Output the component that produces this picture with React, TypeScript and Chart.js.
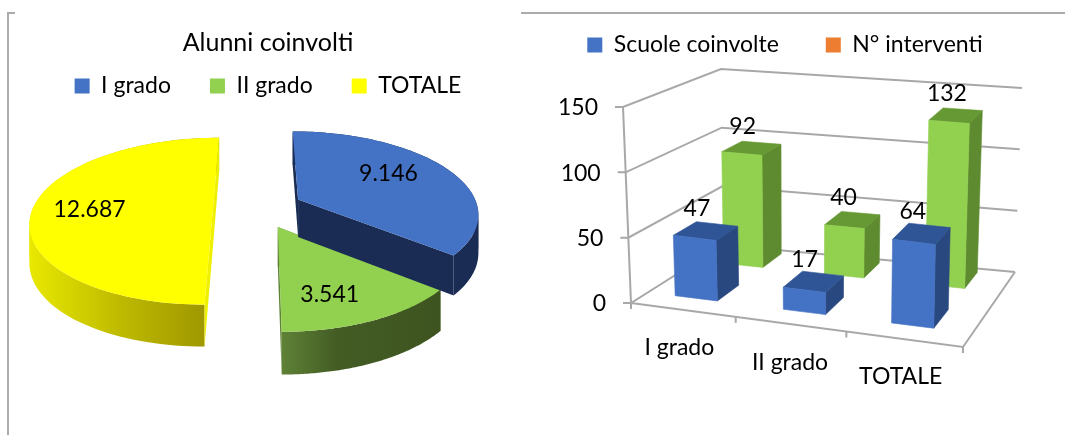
import React, { useEffect, useRef } from "react";
import { Chart, registerables } from "chart.js";

Chart.register(...registerables);

// ---- data ----
const pieCategories = ["I grado", "II grado", "TOTALE"];
const pieValues = [9146, 3541, 12687];
const pieValueLabels = ["9.146", "3.541", "12.687"];
const barCategories = ["I grado", "II grado", "TOTALE"];
const schoolsValues = [47, 17, 64];
const interventionsValues = [92, 40, 132];
const seriesNames = ["Scuole coinvolte", "N° interventi"];
const yTicksMax = 150;
const yTickStep = 50;

// ---- style ----
const FONT = "Lato, 'Open Sans', sans-serif";
const TXT = "#000000";
const pieColors = ["#4472C4", "#92D050", "#FFFF00"];
const barLegendColors = ["#4472C4", "#ED7D31"];
const GRID = "#A8A8A8";

// ---- pie projection ----
const PC = { x: 258, y: 208, r: 180, off: 45, p: 0.1625, s: 0.452, ref: 185 };
function pieProject(a: number, b: number) {
  const w = 1 / (1 - (PC.p * b) / PC.ref);
  return { x: PC.x + a * w, y: PC.y + b * PC.s * w };
}
const pieDepth = (b: number) => 38 + (4 * b) / PC.ref;
const sideStyles = [
  { stops: [[0, "#1A2C54"], [1, "#1A2C54"]], face: "#1A2C54", faceOver: false },
  { stops: [[0, "#5F8236"], [0.35, "#435C24"], [1, "#3E5420"]], face: "#5F8236", faceOver: false },
  { stops: [[0, "#E8E800"], [0.5, "#BDB800"], [1, "#9A9200"]], face: "#EFEF00", faceOver: true },
];
const labelAngleShift = [-11, 5, 2];
const LABEL_R = 0.69;

const pie3dPlugin = {
  id: "pie3d",
  beforeDatasetsDraw(chart: any) {
    const ctx = chart.ctx as CanvasRenderingContext2D;
    const arcs = chart.getDatasetMeta(0).data as any[];
    const drawOne = (i: number) => {
      const el = arcs[i];
      const mid = (el.startAngle + el.endAngle) / 2;
      const off = el.options.offset ?? 0;
      const ax = Math.cos(mid) * off;
      const ay = Math.sin(mid) * off;
      const n = 90;
      const plan: [number, number][] = [];
      for (let k = 0; k <= n; k++) {
        const t = el.startAngle + ((el.endAngle - el.startAngle) * k) / n;
        plan.push([ax + Math.cos(t) * PC.r, ay + Math.sin(t) * PC.r]);
      }
      const top = plan.map(([a, b]) => pieProject(a, b));
      const low = plan.map(([a, b], k) => ({ x: top[k].x, y: top[k].y + pieDepth(b) }));
      const apex = pieProject(ax, ay);
      const apexLow = { x: apex.x, y: apex.y + pieDepth(ay) };
      const st = sideStyles[i];
      const poly = (pts: { x: number; y: number }[], fill: any) => {
        ctx.beginPath();
        pts.forEach((p, k) => (k ? ctx.lineTo(p.x, p.y) : ctx.moveTo(p.x, p.y)));
        ctx.closePath();
        ctx.fillStyle = fill;
        ctx.fill();
      };
      const faces = () => {
        poly([apex, top[0], low[0], apexLow], st.face);
        poly([apex, top[n], low[n], apexLow], st.face);
      };
      if (!st.faceOver) faces();
      const xs = top.map((p) => p.x);
      const g = ctx.createLinearGradient(Math.min(...xs), 0, Math.max(...xs), 0);
      st.stops.forEach(([o, c]) => g.addColorStop(o as number, c as string));
      // split the wall at the horizontal extremes so each piece is a simple polygon
      const iMax = xs.indexOf(Math.max(...xs));
      const iMin = xs.indexOf(Math.min(...xs));
      const cuts = Array.from(new Set([0, iMin, iMax, n])).sort((p, q) => p - q);
      for (let c = 0; c < cuts.length - 1; c++) {
        const from = cuts[c];
        const to = Math.min(n, cuts[c + 1] + 1);
        poly([...top.slice(from, to + 1), ...low.slice(from, to + 1).reverse()], g);
      }
      if (st.faceOver) faces();
      poly([apex, ...top], el.options.backgroundColor);
    };
    [2, 1, 0].forEach(drawOne);
    ctx.save();
    ctx.font = `23px ${FONT}`;
    ctx.fillStyle = TXT;
    ctx.textAlign = "center";
    ctx.textBaseline = "middle";
    arcs.forEach((el, i) => {
      const mid = (el.startAngle + el.endAngle) / 2;
      const off = el.options.offset ?? 0;
      const t = mid + (labelAngleShift[i] * Math.PI) / 180;
      const p = pieProject(
        Math.cos(mid) * off + Math.cos(t) * PC.r * LABEL_R,
        Math.sin(mid) * off + Math.sin(t) * PC.r * LABEL_R
      );
      ctx.fillText(pieValueLabels[i], p.x, p.y + 4);
    });
    ctx.restore();
    return false;
  },
};

// ---- bar projection ----
const FL0 = [631, 303], FR0 = [963, 347], BL0 = [723, 245], BR0 = [1015, 272];
const FL1 = [623, 107], FR1 = [968, 147], BL1 = [721, 69], BR1 = [1022, 88];
const CANVAS_LEFT = 510;
const U_SHIFT = -0.018;
const depthRows = [
  [0.185, 0.44],
  [0.73, 0.95],
];
function bil(a: number[], b: number[], c: number[], d: number[], u: number, w: number, i: number) {
  return (1 - u) * (1 - w) * a[i] + u * (1 - w) * b[i] + (1 - u) * w * c[i] + u * w * d[i];
}
function project(u: number, w: number, h: number) {
  const f = h / yTicksMax;
  const xs = (1 - f) * bil(FL0, FR0, BL0, BR0, u, w, 0) + f * bil(FL1, FR1, BL1, BR1, u, w, 0);
  const ys = (1 - f) * bil(FL0, FR0, BL0, BR0, u, w, 1) + f * bil(FL1, FR1, BL1, BR1, u, w, 1);
  return { x: xs - CANVAS_LEFT, y: ys };
}
const barFaces = [
  { front: "#4472C4", top: "#2F5597", side: "#2A4880" },
  { front: "#92D050", top: "#669933", side: "#5E8B30" },
];

const bar3dPlugin = {
  id: "bar3d",
  beforeDatasetsDraw(chart: any) {
    const ctx = chart.ctx as CanvasRenderingContext2D;
    const area = chart.chartArea;
    const xS = chart.scales.x;
    const yS = chart.scales.y;
    const toU = (px: number) => (px - area.left) / area.width;
    const line = (pts: { x: number; y: number }[]) => {
      ctx.beginPath();
      pts.forEach((p, k) => (k ? ctx.lineTo(p.x, p.y) : ctx.moveTo(p.x, p.y)));
      ctx.stroke();
    };
    ctx.save();
    ctx.strokeStyle = GRID;
    ctx.lineWidth = 2;
    // walls
    yS.ticks.forEach((t: any) => {
      const f = project(0, 0, t.value);
      line([{ x: f.x - 8, y: f.y }, f, project(0, 1, t.value), project(1, 1, t.value)]);
    });
    line([project(0, 0, yTicksMax), project(0, 0, 0)]);
    // floor
    line([project(0, 0, 0), project(1, 0, 0), project(1, 1, 0)]);
    // category ticks
    const n = xS.getLabels().length;
    for (let k = 0; k <= n; k++) {
      const p = project(Math.min(1, Math.max(0, k / n + (k > 0 && k < n ? U_SHIFT : 0))), 0, 0);
      line([p, { x: p.x, y: p.y + 6 }]);
    }
    ctx.font = `23px ${FONT}`;
    ctx.fillStyle = TXT;
    ctx.textBaseline = "middle";
    ctx.textAlign = "right";
    yS.ticks.forEach((t: any) => {
      const f = project(0, 0, t.value);
      ctx.fillText(String(t.value), f.x - 25, f.y + 1);
    });
    ctx.textAlign = "center";
    xS.getLabels().forEach((lab: string, i: number) => {
      const p = project(toU(xS.getPixelForTick(i)) + U_SHIFT, 0, 0);
      ctx.fillText(lab, p.x - 1, p.y + 38);
    });
    // bars, back row first
    const face = (pts: { x: number; y: number }[], c: string) => {
      ctx.beginPath();
      pts.forEach((p, k) => (k ? ctx.lineTo(p.x, p.y) : ctx.moveTo(p.x, p.y)));
      ctx.closePath();
      ctx.fillStyle = c;
      ctx.strokeStyle = c;
      ctx.lineWidth = 0.6;
      ctx.fill();
      ctx.stroke();
    };
    const anchors: { x: number; y: number; v: number }[] = [];
    [1, 0].forEach((ds) => {
      const [w0, w1] = depthRows[ds];
      const c = barFaces[ds];
      chart.getDatasetMeta(ds).data.forEach((el: any, i: number) => {
        const u0 = toU(el.x - el.width / 2) + U_SHIFT;
        const u1 = toU(el.x + el.width / 2) + U_SHIFT;
        const v = yS.getValueForPixel(el.y);
        face([project(u1, w0, 0), project(u1, w1, 0), project(u1, w1, v), project(u1, w0, v)], c.side);
        const ptsTop = [project(u0, w0, v), project(u1, w0, v), project(u1, w1, v), project(u0, w1, v)];
        face(ptsTop, c.top);
        face([project(u0, w0, 0), project(u1, w0, 0), project(u1, w0, v), project(u0, w0, v)], c.front);
        anchors.push({
          x: ptsTop.reduce((s, p) => s + p.x, 0) / 4,
          y: ptsTop.reduce((s, p) => s + p.y, 0) / 4,
          v: chart.data.datasets[ds].data[i],
        });
      });
    });
    ctx.fillStyle = TXT;
    ctx.textAlign = "center";
    anchors.forEach((a) => ctx.fillText(String(a.v), a.x - 9, a.y - 22));
    ctx.restore();
    return false;
  },
};

const legendPlacer = (id: string, centerY: number) => ({
  id,
  afterLayout(chart: any) {
    const lg = chart.legend;
    const fs = lg.options.labels.font.size;
    lg.top = centerY - fs / 2 - lg.options.labels.padding;
  },
});

export default function App() {
  const leftRef = useRef<HTMLCanvasElement>(null);
  const rightRef = useRef<HTMLCanvasElement>(null);

  useEffect(() => {
    const left = new Chart(leftRef.current as HTMLCanvasElement, {
      type: "pie",
      data: {
        labels: pieCategories,
        datasets: [{ data: pieValues, backgroundColor: pieColors, offset: PC.off, borderWidth: 0 }],
      },
      options: {
        responsive: false,
        animation: false,
        plugins: {
          title: {
            display: true,
            text: "Alunni coinvolti",
            color: TXT,
            font: { family: FONT, size: 25, weight: "normal" },
            padding: { top: 28, bottom: 0 },
          },
          legend: {
            display: true,
            position: "top",
            labels: {
              color: TXT,
              font: { family: FONT, size: 23 },
              boxWidth: 15,
              boxHeight: 15,
              padding: 39,
            },
          },
          tooltip: { enabled: false },
        },
      } as any,
      plugins: [pie3dPlugin, legendPlacer("lgL", 86)] as any,
    });

    const right = new Chart(rightRef.current as HTMLCanvasElement, {
      type: "bar",
      data: {
        labels: barCategories,
        datasets: [
          { label: seriesNames[0], data: schoolsValues, backgroundColor: barFaces[0].front },
          { label: seriesNames[1], data: interventionsValues, backgroundColor: barFaces[1].front },
        ],
      },
      options: {
        responsive: false,
        animation: false,
        datasets: { bar: { grouped: false, barPercentage: 0.39, categoryPercentage: 1 } },
        scales: {
          x: { ticks: { display: false }, grid: { display: false }, border: { display: false } },
          y: {
            min: 0,
            max: yTicksMax,
            ticks: { display: false, stepSize: yTickStep },
            grid: { display: false },
            border: { display: false },
          },
        },
        plugins: {
          legend: {
            display: true,
            position: "top",
            labels: {
              color: TXT,
              font: { family: FONT, size: 23 },
              boxWidth: 15,
              boxHeight: 15,
              padding: 47,
              generateLabels: () =>
                seriesNames.map((text, i) => ({
                  text,
                  fillStyle: barLegendColors[i],
                  strokeStyle: barLegendColors[i],
                  lineWidth: 0,
                  datasetIndex: i,
                  fontColor: TXT,
                })),
            },
          },
          tooltip: { enabled: false },
        },
      } as any,
      plugins: [bar3dPlugin, legendPlacer("lgR", 45)] as any,
    });

    return () => {
      left.destroy();
      right.destroy();
    };
  }, []);

  const pos = (x: number, y: number, w: number, h: number): React.CSSProperties => ({
    position: "absolute",
    left: x,
    top: y,
    width: w,
    height: h,
    display: "block",
  });

  return (
    <div style={{ ...pos(0, 0, 1065, 435), overflow: "hidden", background: "#fff" }}>
      <div style={{ ...pos(7, 12, 1.5, 423), background: "#ABABAB" }} />
      <div style={{ ...pos(7, 12, 8, 1.5), background: "#ABABAB" }} />
      <div style={{ ...pos(521, 12, 544, 1.5), background: "#ABABAB" }} />
      <canvas ref={leftRef} width={536} height={435} style={pos(0, 0, 536, 435)} />
      <canvas ref={rightRef} width={550} height={435} style={pos(510, 0, 550, 435)} />
    </div>
  );
}
